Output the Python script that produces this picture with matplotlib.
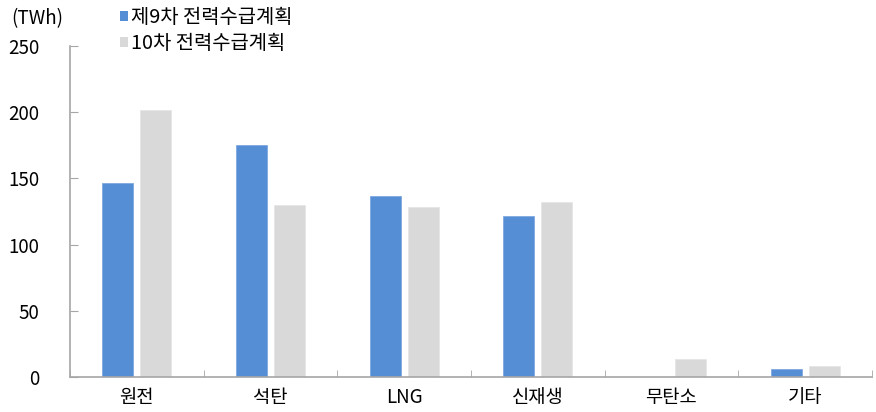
import numpy as np
import matplotlib.pyplot as plt
from matplotlib.patches import Patch

plt.rcParams['font.family'] = ['Noto Sans CJK KR', 'DejaVu Sans']

# 발전원별 발전량 (TWh)
categories = ["원전", "석탄", "LNG", "신재생", "무탄소", "기타"]
plan9 = [146.7, 175.2, 137.1, 122.0, 0.0, 5.8]
plan10 = [202.0, 130.3, 128.3, 132.3, 13.6, 8.6]
series_names = ["제9차 전력수급계획", "10차 전력수급계획"]

blue = "#558ED5"
gray = "#D9D9D9"
axis_color = "#A6A6A6"
fs = 13.5

fig = plt.figure(figsize=(8.76, 4.12), dpi=100)
ax = fig.add_axes([0.0799, 0.085, 0.9155, 0.803])

x = np.arange(len(categories))
w = 0.232
ax.bar(x - 0.143, plan9, width=w, color=blue, edgecolor="#7FA9E0", linewidth=0.6)
ax.bar(x + 0.143, plan10, width=w, color=gray, edgecolor="#E6E6E6", linewidth=0.6)

ax.set_xlim(-0.5, len(categories) - 0.5)
ax.set_ylim(0, 250)
ax.set_yticks(np.arange(0, 251, 50))

ax.set_xticks(x)
ax.set_xticklabels(categories, fontsize=fs)
ax.set_xticks(np.arange(-0.5, len(categories)), minor=True)
ax.tick_params(axis="x", which="major", length=0, pad=7)
ax.tick_params(axis="x", which="minor", direction="in", length=5, color=axis_color)
ax.tick_params(axis="y", direction="in", length=6, color=axis_color, pad=22,
               labelsize=fs)

for side in ["top", "right"]:
    ax.spines[side].set_visible(False)
for side in ["left", "bottom"]:
    ax.spines[side].set_color(axis_color)
    ax.spines[side].set_linewidth(1.2)

fig.text(0.013, 0.955, "(TWh)", fontsize=fs, va="center", ha="left")

handles = [Patch(facecolor=blue), Patch(facecolor=gray)]
fig.legend(handles, series_names, loc="upper left", bbox_to_anchor=(0.137, 0.983),
           frameon=False, fontsize=14.3, handlelength=0.42, handleheight=0.42,
           handletextpad=0.15, labelspacing=0.25, borderaxespad=0, borderpad=0)

fig.savefig("out.png", dpi=100)
